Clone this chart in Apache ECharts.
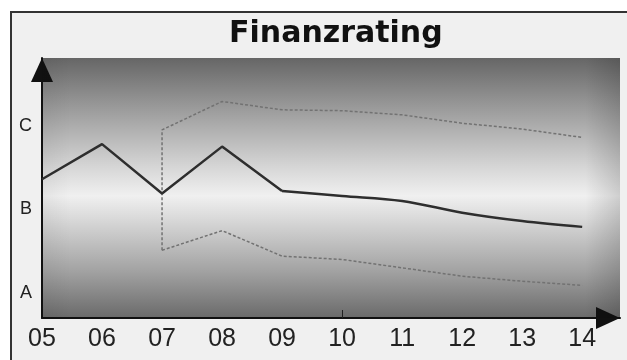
<!DOCTYPE html>
<html>
<head>
<meta charset="utf-8">
<script src="https://cdn.jsdelivr.net/npm/echarts@6/dist/echarts.min.js"></script>
<style>
  html, body { margin: 0; padding: 0; background: #ffffff; }
  #chart { width: 627px; height: 360px; }
</style>
</head>
<body>
<div id="chart"></div>
<script>
// Year ticks and rating scale
const years = [5, 6, 7, 8, 9, 10, 11, 12, 13, 14];
const yearLabels = ['05', '06', '07', '08', '09', '10', '11', '12', '13', '14'];
const ratingValues = [1, 2, 3];
const ratingLabels = ['A', 'B', 'C'];

// Rating history (05–09) and forecast (09–14)
const actualYears = [5, 6, 7, 8, 9];
const actualRating = [2.36, 2.78, 2.19, 2.75, 2.22];
const forecastYears = [9, 10, 11, 12, 13, 14];
const forecastRating = [2.22, 2.16, 2.10, 1.96, 1.86, 1.79];

// Forecast band (from 07)
const bandYears = [7, 8, 9, 10, 11, 12, 13, 14];
const upperBound = [2.95, 3.29, 3.19, 3.18, 3.13, 3.03, 2.96, 2.86];
const lowerBound = [1.51, 1.745, 1.44, 1.40, 1.30, 1.20, 1.14, 1.09];

const zip = (xs, ys) => xs.map((x, i) => [x, ys[i]]);

const chart = echarts.init(document.getElementById('chart'), null, { renderer: 'canvas' });

const dashStyle = { color: '#727272', width: 1.5, type: [3, 2] };
const solidStyle = { color: '#2e2e2e', width: 2.5 };

// Solid triangular arrow heads whose tips sit at the axis ends
const axisArrow = {
  symbol: ['none', 'triangle'],
  symbolSize: [22, 24],
  symbolOffset: [0, -12]
};

chart.setOption({
  animation: false,
  backgroundColor: '#ffffff',
  graphic: [{
    type: 'rect',
    z: -10,
    shape: { x: 11, y: 12, width: 720, height: 420 },
    style: { fill: '#f0f0f0', stroke: '#333333', lineWidth: 2 }
  }],
  title: {
    text: 'Finanzrating',
    left: 224,
    top: 14,
    textStyle: { fontFamily: 'DejaVu Sans', fontWeight: 'bold', fontSize: 30, color: '#111111' }
  },
  grid: {
    left: 42, right: 7, top: 58, bottom: 42,
    show: true,
    borderWidth: 0,
    backgroundColor: new echarts.graphic.LinearGradient(0, 0, 0, 1, [
      { offset: 0, color: '#666666' },
      { offset: 0.18, color: '#979797' },
      { offset: 0.42, color: '#d6d6d6' },
      { offset: 0.53, color: '#f0f0f0' },
      { offset: 0.63, color: '#d6d6d6' },
      { offset: 0.82, color: '#a2a2a2' },
      { offset: 1, color: '#6a6a6a' }
    ])
  },
  xAxis: {
    type: 'value',
    min: 5,
    max: 14.63,
    splitLine: { show: false },
    axisLine: Object.assign({ lineStyle: { color: '#111111', width: 2 } }, axisArrow),
    axisTick: { show: true, inside: true, length: 8, customValues: [10], lineStyle: { color: '#222222', width: 1 } },
    axisLabel: {
      customValues: years,
      formatter: v => yearLabels[years.indexOf(v)],
      fontFamily: 'Liberation Sans',
      fontSize: 25,
      color: '#222222',
      margin: 9
    }
  },
  yAxis: {
    type: 'value',
    min: 0.7,
    max: 3.81,
    splitLine: { show: false },
    axisLine: Object.assign({ show: true, lineStyle: { color: '#111111', width: 2 } }, axisArrow),
    axisTick: { show: false },
    axisLabel: {
      customValues: ratingValues,
      formatter: v => ratingLabels[ratingValues.indexOf(v)],
      fontFamily: 'Liberation Sans',
      fontSize: 18,
      color: '#222222',
      margin: 10
    }
  },
  series: [
    {
      name: 'shade',
      type: 'line',
      data: [],
      markArea: {
        silent: true,
        itemStyle: {
          color: new echarts.graphic.LinearGradient(0, 0, 1, 0, [
            { offset: 0, color: 'rgba(0,0,0,0.05)' },
            { offset: 0.05, color: 'rgba(0,0,0,0)' },
            { offset: 0.94, color: 'rgba(0,0,0,0)' },
            { offset: 1, color: 'rgba(0,0,0,0.14)' }
          ])
        },
        data: [[{ xAxis: 'min', yAxis: 'min' }, { xAxis: 'max', yAxis: 'max' }]]
      }
    },
    {
      name: 'upper',
      type: 'line',
      symbol: 'none',
      lineStyle: dashStyle,
      data: [[bandYears[0], lowerBound[0]]].concat(zip(bandYears, upperBound))
    },
    {
      name: 'lower',
      type: 'line',
      symbol: 'none',
      lineStyle: dashStyle,
      data: zip(bandYears, lowerBound)
    },
    {
      name: 'actual',
      type: 'line',
      symbol: 'none',
      lineStyle: solidStyle,
      data: zip(actualYears, actualRating)
    },
    {
      name: 'forecast',
      type: 'line',
      symbol: 'none',
      smooth: 0.35,
      lineStyle: solidStyle,
      data: zip(forecastYears, forecastRating)
    }
  ]
});
</script>
</body>
</html>
